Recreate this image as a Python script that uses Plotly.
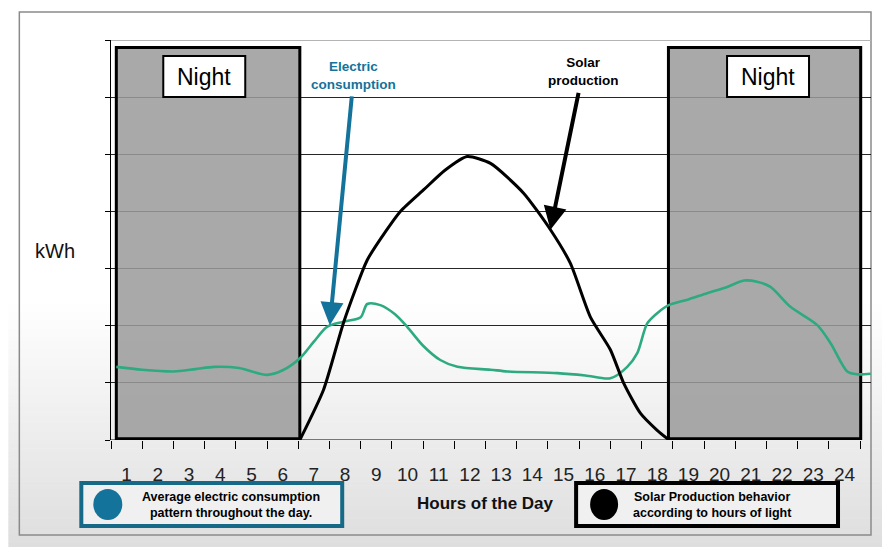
import plotly.graph_objects as go

# hourly profile (x = hour, y = kWh in grid units)
hour_ticks = list(range(1, 25))

cons_hour = [0.67, 1.5, 2.5, 3.2, 3.8, 4.6, 5.5, 6.0, 6.57, 7.0, 7.42, 7.95, 8.5, 8.71,
             9.13, 9.6, 9.99, 10.5, 11.05, 11.6, 12.66, 13.2, 14.8, 15.7, 16.5, 17.04,
             17.36, 17.68, 18.0, 18.37, 19.0, 19.6, 20.2, 20.78, 21.2, 21.63, 22.27,
             23.13, 23.56, 24.09, 24.4, 24.84]
cons_kwh = [1.28, 1.23, 1.20, 1.24, 1.28, 1.26, 1.14, 1.22, 1.44, 1.72, 1.98, 2.07, 2.15, 2.38,
            2.36, 2.20, 1.98, 1.65, 1.40, 1.28, 1.23, 1.20, 1.17, 1.13, 1.08, 1.28,
            1.52, 2.04, 2.22, 2.36, 2.46, 2.57, 2.67, 2.79, 2.77, 2.68, 2.33,
            2.01, 1.69, 1.20, 1.15, 1.16]

solar_hour = [6.55, 7.31, 7.96, 8.71, 9.3, 9.77, 10.52, 11.2, 11.91, 12.66, 13.72, 14.58,
              15.22, 15.86, 16.5, 16.93, 17.46, 18.0, 18.38]
solar_kwh = [0, 0.88, 2.07, 3.15, 3.65, 4.0, 4.38, 4.72, 4.96, 4.84, 4.32, 3.68,
             3.09, 2.15, 1.58, 0.99, 0.47, 0.17, 0]

night_spans = [(0.67, 6.55), (18.36, 24.52)]

BLUE = "#13739a"
GREEN = "#2eaa80"
FONT = "Liberation Sans"

# the page has an 8px body margin, so the figure is drawn 8px in and 8px down;
# positions below are window pixels and get shifted back
OFF = 8
W, H = 890 - OFF, 547 - OFF
L, R, T, B = 110.7, 871, 40, 440  # plot area in window pixels


def px(x):
    return (x - L) / (R - L)


def py(y):
    return (B - y) / (B - T)


fig = go.Figure()

fig.add_trace(go.Scatter(x=cons_hour, y=cons_kwh, mode="lines",
                         line=dict(color=GREEN, width=2.6, shape="spline", smoothing=0.8),
                         hoverinfo="skip"))
fig.add_trace(go.Scatter(x=solar_hour, y=solar_kwh, mode="lines",
                         line=dict(color="black", width=3, shape="spline", smoothing=0.6),
                         hoverinfo="skip"))

shapes = []

# grey gradient on the page
steps = 60
top, bot = 300, 547
for i in range(steps):
    y0 = top + i * (bot - top) / steps
    y1 = y0 + (bot - top) / steps + 0.6
    g = int(round(255 - 33 * i / (steps - 1)))
    shapes.append(dict(type="rect", xref="paper", yref="paper", layer="below",
                       x0=px(OFF), x1=px(890), y0=py(y1), y1=py(y0),
                       fillcolor=f"rgb({g},{g},{g})", line=dict(width=0)))

# outer frame
shapes.append(dict(type="rect", xref="paper", yref="paper", layer="below",
                   x0=px(19), x1=px(871), y0=py(535), y1=py(12),
                   line=dict(color="#8a8a8a", width=1.5)))

# top edge of plot
shapes.append(dict(type="line", xref="x", yref="y", x0=0.5, x1=24.85, y0=7, y1=7,
                   line=dict(color="#b4b4b4", width=2), layer="below"))

# night boxes
for x0, x1 in night_spans:
    shapes.append(dict(type="rect", xref="x", yref="y", layer="between",
                       x0=x0, x1=x1, y0=0.02, y1=6.87,
                       fillcolor="rgba(155,155,155,0.86)",
                       line=dict(color="black", width=3)))

# baseline
shapes.append(dict(type="line", xref="x", yref="y", x0=0.5, x1=24.5, y0=0, y1=0,
                   line=dict(color="black", width=1.2)))

# bottom legend boxes
shapes.append(dict(type="rect", xref="paper", yref="paper",
                   x0=px(81), x1=px(342), y0=py(526), y1=py(483),
                   fillcolor="#f0f0f0", line=dict(color="#176a87", width=4)))
shapes.append(dict(type="circle", xref="paper", yref="paper",
                   x0=px(93), x1=px(122), y0=py(520), y1=py(489),
                   fillcolor=BLUE, line=dict(width=0)))
shapes.append(dict(type="rect", xref="paper", yref="paper",
                   x0=px(576), x1=px(838), y0=py(526), y1=py(483),
                   fillcolor="#f0f0f0", line=dict(color="black", width=4)))
shapes.append(dict(type="circle", xref="paper", yref="paper",
                   x0=px(590), x1=px(618), y0=py(520), y1=py(489),
                   fillcolor="black", line=dict(width=0)))

# "Night" label boxes
for cx in (204, 768):
    shapes.append(dict(type="rect", xref="paper", yref="paper",
                       x0=px(cx - 41), x1=px(cx + 41), y0=py(97), y1=py(56),
                       fillcolor="white", line=dict(color="black", width=2)))


def label(x, y, text, size, color="black"):
    return dict(x=px(x), y=py(y), xref="paper", yref="paper", text=text,
                showarrow=False, xanchor="center", yanchor="middle",
                font=dict(family=FONT, size=size, color=color))


annotations = [label(cx, 77, "Night", 23) for cx in (204, 768)]
annotations += [
    label(55, 251, "kWh", 20, "#111"),
    label(353, 76, "<b>Electric<br>consumption</b>", 13.5, BLUE),
    label(583, 72, "<b>Solar<br>production</b>", 13.5),
    label(485, 503, "<b>Hours of the Day</b>", 17, "#111"),
    label(231, 505, "<b>Average electric consumption<br>pattern throughout the day.</b>", 12.5),
    label(712, 505, "<b>Solar Production behavior<br>according to hours of light</b>", 12.5),
    dict(x=7.51, y=2.01, ax=8.22, ay=6.04, xref="x", yref="y", axref="x", ayref="y",
         text="", showarrow=True, arrowhead=2, arrowwidth=4, arrowsize=1.15,
         arrowcolor=BLUE),
    dict(x=14.58, y=3.68, ax=15.49, ay=6.10, xref="x", yref="y", axref="x", ayref="y",
         text="", showarrow=True, arrowhead=2, arrowwidth=4, arrowsize=1.15,
         arrowcolor="black"),
]

fig.update_layout(
    width=W, height=H,
    margin=dict(l=L - OFF, r=890 - R, t=T - OFF, b=547 - B),
    paper_bgcolor="white",
    plot_bgcolor="rgba(0,0,0,0)",
    showlegend=False,
    shapes=shapes,
    annotations=annotations,
    font=dict(family=FONT),
)

fig.update_xaxes(
    range=[0.5, 24.85], tickmode="array", tickvals=hour_ticks,
    ticktext=[str(h) for h in hour_ticks], ticks="", showgrid=False, zeroline=False,
    showline=False, ticklabelstandoff=21,
    tickfont=dict(family=FONT, size=19, color="#222"),
    minor=dict(tickmode="array", tickvals=[h - 0.5 for h in hour_ticks] + [24.5],
               ticks="outside", ticklen=8, tickcolor="black", tickwidth=1, showgrid=False),
)

fig.update_yaxes(
    range=[0, 7], tickmode="array", tickvals=[1, 2, 3, 4, 5, 6], showticklabels=False,
    ticks="outside", ticklen=5, tickcolor="black",
    showgrid=True, gridcolor="rgba(0,0,0,0.85)", gridwidth=1, zeroline=False,
    showline=True, linecolor="black", linewidth=1.2,
    minor=dict(tickmode="array", tickvals=[0, 7], ticks="outside", ticklen=5,
               tickcolor="black", showgrid=False),
)

fig.write_html("out.html")
